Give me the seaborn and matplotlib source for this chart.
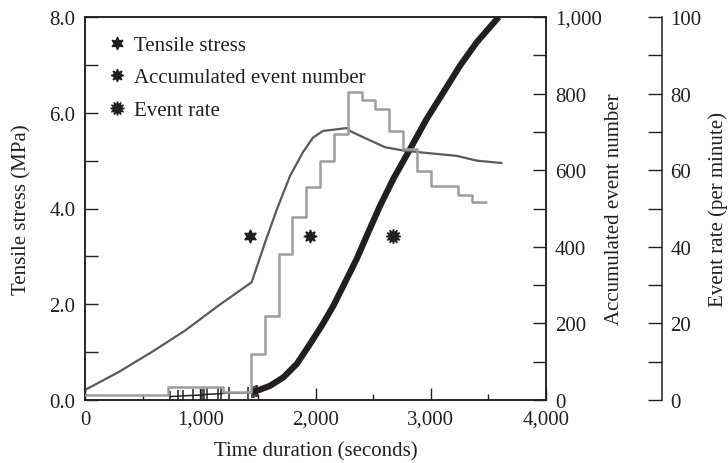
import numpy as np
import pandas as pd
import seaborn as sns
import matplotlib
matplotlib.use("Agg")
import matplotlib.pyplot as plt
from matplotlib.lines import Line2D

# ---------------- data ----------------
stress_time = [0, 289, 578, 868, 1157, 1446, 1562, 1666, 1779, 1892, 1978, 2065,
               2273, 2299, 2386, 2603, 2762, 2965, 3225, 3399, 3615]
tensile_stress = [0.21, 0.58, 1.00, 1.45, 1.97, 2.46, 3.29, 3.99, 4.68, 5.18, 5.48, 5.62,
                  5.68, 5.62, 5.52, 5.28, 5.21, 5.16, 5.10, 5.00, 4.95]

rate_time = [0, 717, 1198, 1438, 1560, 1680, 1800, 1920, 2040, 2160, 2280, 2400,
             2520, 2640, 2760, 2880, 3000, 3240, 3360, 3480]
event_rate = [1.4, 3.3, 2.2, 12.0, 22.0, 38.0, 47.8, 55.6, 62.4, 69.5, 80.4, 78.3,
              76.0, 70.2, 65.5, 59.8, 55.9, 53.5, 51.7, 51.7]

early_event_time = [738, 810, 853, 940, 1012, 1035, 1056, 1157, 1180, 1250, 1412, 1450,
                    1465, 1480, 1495]
early_event_count = [9, 10, 11, 12, 13, 14, 15, 16, 17, 18, 19, 20, 21, 23, 24]

acc_time = [1450, 1490, 1605, 1721, 1837, 1952, 2054, 2155, 2256, 2357, 2445,
            2560, 2675, 2820, 2965, 3109, 3254, 3399, 3590]
acc_count = [20, 24, 37, 59, 94, 146, 194, 246, 307, 368, 429,
             507, 577, 655, 734, 803, 873, 934, 1000]

marker_time = [1432, 1952, 2672]
marker_level = [3.43, 3.43, 3.43]
legend_labels = ["Tensile stress", "Accumulated event number", "Event rate"]

x_ticks = [0, 1000, 2000, 3000, 4000]
x_tick_labels = ["0", "1,000", "2,000", "3,000", "4,000"]
x_minor_ticks = [500, 1500, 2500, 3500]
stress_ticks = [0, 1, 2, 3, 4, 5, 6, 7, 8]
stress_tick_labels = ["0.0", "", "2.0", "", "4.0", "", "6.0", "", "8.0"]
count_ticks = [0, 100, 200, 300, 400, 500, 600, 700, 800, 900, 1000]
count_tick_labels = ["0", "", "200", "", "400", "", "600", "", "800", "", "1,000"]
rate_ticks = [0, 10, 20, 30, 40, 50, 60, 70, 80, 90, 100]
rate_tick_labels = ["0", "", "20", "", "40", "", "60", "", "80", "", "100"]

# ---------------- style ----------------
sns.set_style("ticks")
plt.rcParams["font.family"] = ["Liberation Serif", "DejaVu Serif"]
plt.rcParams["font.size"] = 15
INK = "#231f20"
for k in ["axes.edgecolor", "xtick.color", "ytick.color", "text.color",
          "axes.labelcolor", "xtick.labelcolor", "ytick.labelcolor"]:
    plt.rcParams[k] = INK

fig = plt.figure(figsize=(7.28, 4.64), dpi=100, facecolor="white")
L, R, B, T = 85 / 728, 546 / 728, 1 - 401 / 464, 1 - 18 / 464
ax = fig.add_axes([L, B, R - L, T - B])
ax2 = ax.twinx()
ax3 = ax.twinx()
ax2.set_zorder(1)
ax.set_zorder(2)
ax3.set_zorder(3)
ax.patch.set_visible(False)
ax2.patch.set_visible(False)
ax3.patch.set_visible(False)

df_stress = pd.DataFrame({"t": stress_time, "v": tensile_stress})
df_rate = pd.DataFrame({"t": rate_time, "v": event_rate})
df_early = pd.DataFrame({"t": early_event_time, "v": early_event_count})
df_acc = pd.DataFrame({"t": acc_time, "v": acc_count})
df_mark = pd.DataFrame({"t": marker_time, "v": marker_level})

# accumulated event number (bottom layer)
sns.lineplot(data=df_early, x="t", y="v", ax=ax2, color=INK, lw=1.1,
             marker="|", markersize=8, markeredgewidth=1.1, markeredgecolor=INK,
             estimator=None, sort=False)
sns.lineplot(data=df_acc, x="t", y="v", ax=ax2, color=INK, lw=4.5,
             estimator=None, sort=False, solid_capstyle="butt", solid_joinstyle="round")
# tensile stress
sns.lineplot(data=df_stress, x="t", y="v", ax=ax, color="#5a5a5a", lw=1.6,
             estimator=None, sort=False)
# event rate steps
sns.lineplot(data=df_rate, x="t", y="v", ax=ax3, color="#9d9d9d", lw=1.8,
             drawstyle="steps-post", estimator=None, sort=False)

# the three symbols inside the plot
star_markers = [(6, 1, 0), (8, 1, 0), (12, 1, 0)]
star_sizes = [9.5, 9.5, 10.5]
for i in range(3):
    ax.plot(df_mark["t"].iloc[i], df_mark["v"].iloc[i], ls="none",
            marker=star_markers[i], ms=star_sizes[i], color=INK, mec=INK)

handles = [Line2D([], [], ls="none", marker=star_markers[i], ms=star_sizes[i] - 0.5,
                  color=INK, mec=INK) for i in range(3)]
ax.legend(handles, legend_labels, loc="upper left", bbox_to_anchor=(0.051, 0.952),
          frameon=False, borderaxespad=0, borderpad=0, handlelength=0.8,
          handletextpad=0.4, labelspacing=0.62, fontsize=15)

# ---------------- axes ----------------
ax.set_xlim(0, 4000)
ax.set_ylim(0, 8)
ax2.set_ylim(0, 1000)
ax3.set_ylim(0, 100)

ax.set_xticks(x_ticks)
ax.set_xticklabels(x_tick_labels)
ax.set_xticks(x_minor_ticks, minor=True)
ax.set_yticks(stress_ticks)
ax.set_yticklabels(stress_tick_labels)
ax2.set_yticks(count_ticks)
ax2.set_yticklabels(count_tick_labels)
ax3.set_yticks(rate_ticks)
ax3.set_yticklabels(rate_tick_labels)

ax.tick_params(axis="x", which="major", direction="in", length=8.6, width=1.0, pad=7)
ax.tick_params(axis="x", which="minor", direction="in", length=4.0, width=1.0)
ax.tick_params(axis="y", which="major", direction="in", length=9.4, width=1.0, pad=7)
ax2.tick_params(axis="y", which="major", direction="in", length=9.4, width=1.0, pad=6.5)
ax3.tick_params(axis="y", which="major", direction="in", length=10.0, width=1.0, pad=6)
ax.tick_params(axis="y", which="minor", left=False)

for a in (ax, ax2, ax3):
    for s in a.spines.values():
        s.set_linewidth(1.1)
        s.set_color(INK)
ax3.spines["right"].set_position(("axes", (662 - 85) / 461))
for s in ["top", "bottom", "left"]:
    ax3.spines[s].set_visible(False)

ax.set_xlabel("Time duration (seconds)")
ax.set_ylabel("Tensile stress (MPa)")
ax2.set_ylabel("Accumulated event number")
ax3.set_ylabel("Event rate (per minute)")
ax.xaxis.set_label_coords(0.5, (401 - 452) / 383)
ax.xaxis.label.set_va("center")
ax.yaxis.set_label_coords((22 - 85) / 461, 0.5)
ax.yaxis.label.set_va("center")
ax2.yaxis.set_label_coords((614 - 85) / 461, 0.5)
ax2.yaxis.label.set_va("center")
ax3.yaxis.set_label_coords((718 - 85) / 461, 0.5)
ax3.yaxis.label.set_va("center")

fig.savefig("out.png", dpi=100, facecolor="white")
